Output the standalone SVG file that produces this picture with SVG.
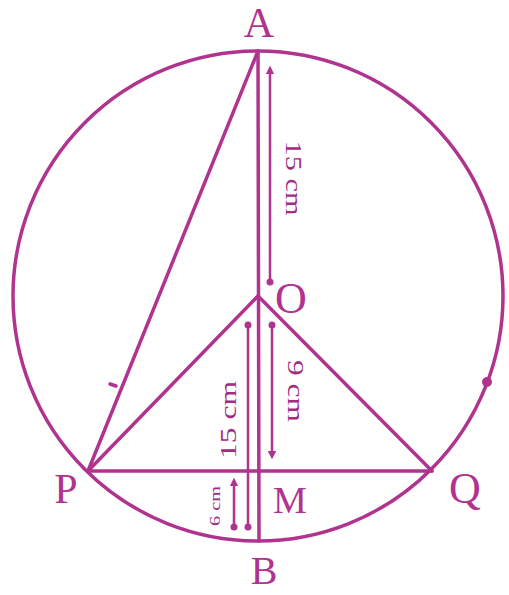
<svg xmlns="http://www.w3.org/2000/svg" width="509" height="595" viewBox="0 0 509 595">
<style>
.ln{stroke:#b0338f;stroke-width:3.5;fill:none;stroke-linecap:round}
.ar{stroke:#b0338f;stroke-width:2.5;fill:none}
.lb{font-family:"Liberation Serif","Times New Roman",serif;fill:#b0338f;text-anchor:middle}
.ms{font-family:"Liberation Serif","Times New Roman",serif;fill:#a02c84;text-anchor:middle}
.dt{fill:#b0338f}
</style>
<defs>
<marker id="ah" viewBox="0 0 10 10" refX="5" refY="5" markerWidth="3.5" markerHeight="3.5" orient="auto-start-reverse">
<path d="M0,0 L10,5 L0,10 z" fill="#b0338f"/>
</marker>
</defs>
<rect width="509" height="595" fill="#ffffff"/>
<g id="connectors">
<circle class="ln" cx="258" cy="296" r="245"/>
<line class="ln" x1="258" y1="51" x2="88" y2="471"/>
<line class="ln" x1="258" y1="51" x2="259" y2="541"/>
<line class="ln" x1="258" y1="296" x2="88" y2="471"/>
<line class="ln" x1="258" y1="296" x2="432" y2="471"/>
<line class="ln" x1="88" y1="471" x2="432" y2="471"/>
<line class="ln" x1="110" y1="384" x2="116" y2="386"/>
<circle class="dt" cx="487" cy="382" r="5"/>
</g>
<g id="dim-AO">
<line class="ar" x1="270" y1="70" x2="270" y2="282" marker-start="url(#ah)"/>
<circle class="dt" cx="270" cy="282" r="3.5"/>
<text class="ms" font-size="24" transform="translate(286,178) rotate(90)" textLength="75" lengthAdjust="spacingAndGlyphs">15 cm</text>
</g>
<g id="dim-OM">
<line class="ar" x1="272" y1="325" x2="272" y2="455" marker-end="url(#ah)"/>
<circle class="dt" cx="272" cy="325" r="3.5"/>
<text class="ms" font-size="24" transform="translate(288,391) rotate(90)" textLength="62" lengthAdjust="spacingAndGlyphs">9 cm</text>
</g>
<g id="dim-OB">
<line class="ar" x1="248" y1="325" x2="248" y2="527"/>
<circle class="dt" cx="248" cy="325" r="3.5"/>
<circle class="dt" cx="248" cy="527" r="3.5"/>
<text class="ms" font-size="24" transform="translate(236,420) rotate(-90)" textLength="78" lengthAdjust="spacingAndGlyphs">15 cm</text>
</g>
<g id="dim-MB">
<line class="ar" x1="234" y1="482" x2="234" y2="527" marker-start="url(#ah)"/>
<circle class="dt" cx="234" cy="527" r="3.5"/>
<text class="ms" font-size="15" transform="translate(220,506) rotate(-90)" textLength="40" lengthAdjust="spacingAndGlyphs">6 cm</text>
</g>
<g id="A"><text class="lb" x="259" y="37" font-size="42">A</text></g>
<g id="O"><text class="lb" x="291" y="313" font-size="44">O</text></g>
<g id="P"><text class="lb" x="66" y="503" font-size="42">P</text></g>
<g id="Q"><text class="lb" x="465" y="503" font-size="44">Q</text></g>
<g id="M"><text class="lb" x="290" y="513" font-size="38">M</text></g>
<g id="B"><text class="lb" x="264" y="584" font-size="40">B</text></g>
</svg>
